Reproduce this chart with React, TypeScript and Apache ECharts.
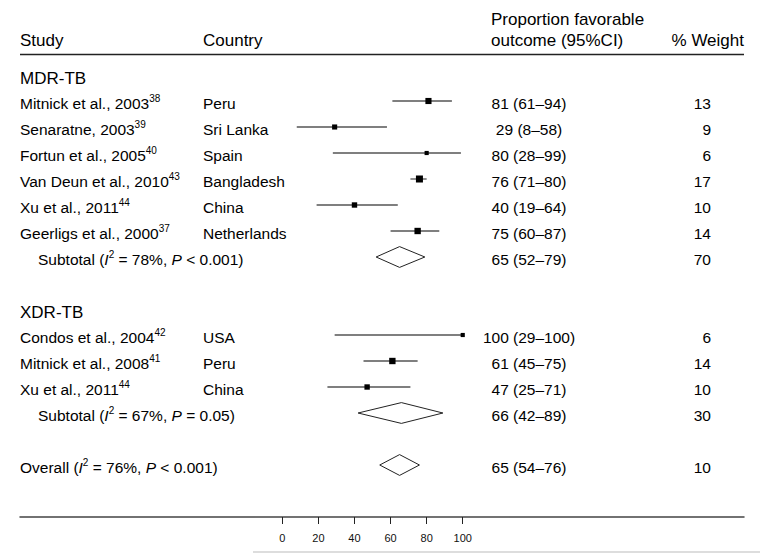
import React, { useEffect, useRef } from "react";
import * as echarts from "echarts";

// ---------- data ----------
const studies = [
  "Mitnick et al., 2003",
  "Senaratne, 2003",
  "Fortun et al., 2005",
  "Van Deun et al., 2010",
  "Xu et al., 2011",
  "Geerligs et al., 2000",
  "Condos et al., 2004",
  "Mitnick et al., 2008",
  "Xu et al., 2011",
];
const refs = ["38", "39", "40", "43", "44", "37", "42", "41", "44"];
const countries = ["Peru", "Sri Lanka", "Spain", "Bangladesh", "China", "Netherlands", "USA", "Peru", "China"];
const studyGroup = ["MDR-TB", "MDR-TB", "MDR-TB", "MDR-TB", "MDR-TB", "MDR-TB", "XDR-TB", "XDR-TB", "XDR-TB"];
const estimates = [81, 29, 80, 76, 40, 75, 100, 61, 47];
const lower = [61, 8, 28, 71, 19, 60, 29, 45, 25];
const upper = [94, 58, 99, 80, 64, 87, 100, 75, 71];
const weights = [13, 9, 6, 17, 10, 14, 6, 14, 10];

const groups = ["MDR-TB", "XDR-TB"];
const subtotalEst = [65, 66];
const subtotalLo = [52, 42];
const subtotalHi = [79, 89];
const subtotalWeight = [70, 30];
const subtotalI2 = [78, 67];
const subtotalP = ["< 0.001", "= 0.05"];

const overallEst = 65;
const overallLo = 54;
const overallHi = 76;
const overallWeight = 10;
const overallI2 = 76;
const overallP = "< 0.001";

const xTicks = [0, 20, 40, 60, 80, 100];

// ---------- layout ----------
const FONT = "'Liberation Sans', Arial, Helvetica, sans-serif";
const X_MIN = -145.4;
const X_MAX = 255.9;
const BODY = 15.5;

type Row = {
  kind: "header" | "study" | "subtotal" | "overall";
  row: number;
  i?: number;
  g?: number;
};

function buildRows(): Row[] {
  const rows: Row[] = [];
  let r = 0;
  groups.forEach((g, gi) => {
    rows.push({ kind: "header", row: r++, g: gi });
    studies.forEach((_, i) => {
      if (studyGroup[i] === g) rows.push({ kind: "study", row: r++, i });
    });
    rows.push({ kind: "subtotal", row: r++, g: gi });
    r++; // blank line
  });
  rows.push({ kind: "overall", row: r++ });
  return rows;
}

export default function App() {
  const ref = useRef<HTMLDivElement>(null);

  useEffect(() => {
    if (!ref.current) return;
    const chart = echarts.init(ref.current, undefined, { renderer: "svg" });
    const rows = buildRows();

    const data: number[][] = [];
    rows.forEach((r) => {
      if (r.kind === "study") {
        const i = r.i!;
        data.push([r.row, estimates[i], lower[i], upper[i], weights[i], 0]);
      } else if (r.kind === "subtotal") {
        const g = r.g!;
        data.push([r.row, subtotalEst[g], subtotalLo[g], subtotalHi[g], subtotalWeight[g], 1]);
      } else if (r.kind === "overall") {
        data.push([r.row, overallEst, overallLo, overallHi, overallWeight, 1]);
      }
    });

    chart.setOption({
      animation: false,
      grid: { left: 20, right: 16, top: 62, bottom: 36 },
      xAxis: {
        type: "value",
        min: X_MIN,
        max: X_MAX,
        axisLine: { show: true, onZero: false, lineStyle: { color: "#444", width: 1.5 } },
        axisTick: { show: true, customValues: xTicks, length: 7, lineStyle: { color: "#222", width: 1 } },
        axisLabel: { customValues: xTicks, fontSize: 11, color: "#111", margin: 15, fontFamily: FONT },
        splitLine: { show: false },
      },
      yAxis: { type: "value", inverse: true, min: -0.5, max: 17, show: false },
      series: [
        {
          type: "custom",
          clip: false,
          encode: { x: [1, 2, 3], y: 0 },
          data,
          renderItem: (_params: any, api: any) => {
            const row = api.value(0);
            const est = api.value(1);
            const lo = api.value(2);
            const hi = api.value(3);
            const w = api.value(4);
            const kind = api.value(5);
            if (kind === 1) {
              const pts = [
                api.coord([lo, row]),
                api.coord([est, row - 0.4]),
                api.coord([hi, row]),
                api.coord([est, row + 0.4]),
              ];
              return {
                type: "polygon",
                shape: { points: pts },
                style: { fill: "#fff", stroke: "#222", lineWidth: 1 },
              };
            }
            const a = api.coord([lo, row]);
            const b = api.coord([hi, row]);
            const c = api.coord([est, row]);
            const s = Math.sqrt(w) * 1.7;
            return {
              type: "group",
              children: [
                {
                  type: "line",
                  shape: { x1: a[0], y1: a[1], x2: b[0], y2: b[1] },
                  style: { stroke: "#555", lineWidth: 1.3 },
                },
                {
                  type: "rect",
                  shape: { x: c[0] - s / 2, y: c[1] - s / 2, width: s, height: s },
                  style: { fill: "#000" },
                },
              ],
            };
          },
        },
      ],
    });

    const yOf = (row: number) => chart.convertToPixel({ yAxisIndex: 0 }, row) as number;

    const mainRich = {
      n: { fontSize: BODY, fontFamily: FONT, fill: "#000", lineHeight: 20, verticalAlign: "middle" },
      it: { fontSize: BODY, fontFamily: FONT, fill: "#000", fontStyle: "italic", lineHeight: 20, verticalAlign: "middle" },
      s: { fontSize: 10, fontFamily: FONT, fill: "#000", lineHeight: 10, verticalAlign: "top" },
    };

    const txt = (x: number, y: number, text: string, opts: any = {}) => ({
      type: "text",
      x,
      y,
      silent: true,
      style: {
        text,
        fontSize: opts.fontSize ?? BODY,
        fontFamily: FONT,
        fill: "#000",
        align: opts.align ?? "left",
        verticalAlign: "middle",
        rich: opts.rich,
      },
    });

    const stat = (label: string, i2: number, p: string) =>
      `{n|${label} (}{it|I}{s|2}{n| = ${i2}%, }{it|P}{n| ${p})}`;

    const graphics: any[] = [
      txt(20, 40, "Study", { fontSize: 17 }),
      txt(203, 40, "Country", { fontSize: 17 }),
      txt(491, 19, "Proportion favorable", { fontSize: 17 }),
      txt(491, 40, "outcome (95%CI)", { fontSize: 17 }),
      txt(744, 40, "% Weight", { fontSize: 17, align: "right" }),
      {
        type: "line",
        silent: true,
        shape: { x1: 20, y1: 54.5, x2: 744, y2: 54.5 },
        style: { stroke: "#222", lineWidth: 1.5 },
      },
      {
        type: "line",
        silent: true,
        shape: { x1: 253, y1: 552, x2: 760, y2: 552 },
        style: { stroke: "#bbb", lineWidth: 1 },
      },
    ];

    rows.forEach((r) => {
      const y = yOf(r.row);
      if (r.kind === "header") {
        graphics.push(txt(20, y + 3, groups[r.g!], { fontSize: 17 }));
      } else if (r.kind === "study") {
        const i = r.i!;
        graphics.push(txt(20, y + 2, `{n|${studies[i]}}{s|${refs[i]}}`, { rich: mainRich }));
        graphics.push(txt(203, y + 2, countries[i]));
        graphics.push(txt(529, y + 2, `${estimates[i]} (${lower[i]}–${upper[i]})`, { align: "center" }));
        graphics.push(txt(711, y + 2, String(weights[i]), { align: "right" }));
      } else if (r.kind === "subtotal") {
        const g = r.g!;
        graphics.push(txt(38, y + 2.5, stat("Subtotal", subtotalI2[g], subtotalP[g]), { rich: mainRich }));
        graphics.push(txt(529, y + 2.5, `${subtotalEst[g]} (${subtotalLo[g]}–${subtotalHi[g]})`, { align: "center" }));
        graphics.push(txt(711, y + 2.5, String(subtotalWeight[g]), { align: "right" }));
      } else {
        graphics.push(txt(20, y + 2.5, stat("Overall", overallI2, overallP), { rich: mainRich }));
        graphics.push(txt(529, y + 2.5, `${overallEst} (${overallLo}–${overallHi})`, { align: "center" }));
        graphics.push(txt(711, y + 2.5, String(overallWeight), { align: "right" }));
      }
    });

    chart.setOption({ graphic: graphics });

    return () => chart.dispose();
  }, []);

  return (
    <div
      ref={ref}
      style={{ position: "fixed", left: 0, top: 0, width: 760, height: 553, background: "#fff" }}
    />
  );
}
